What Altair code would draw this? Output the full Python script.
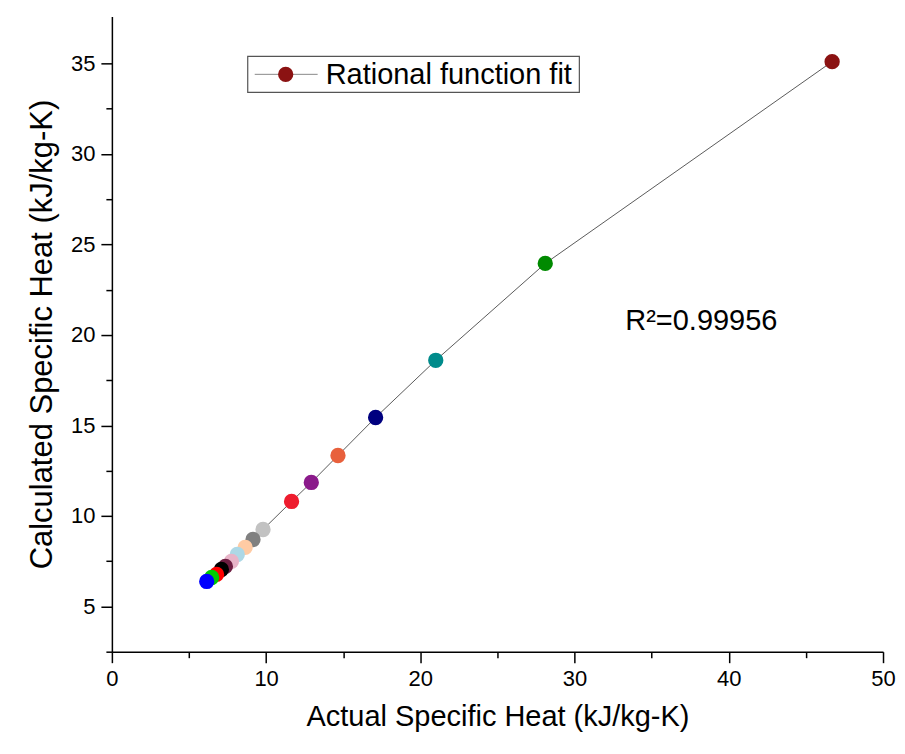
import altair as alt
import pandas as pd

# data (drawn from largest to smallest so the small-value points sit on top)
actual = [46.7, 28.1, 21.0, 17.1, 14.66, 12.93, 11.65, 9.8, 9.15, 8.64, 8.13, 7.75, 7.36, 7.1, 6.79, 6.47, 6.15]
calculated = [35.1, 23.95, 18.6, 15.44, 13.34, 11.85, 10.8, 9.25, 8.7, 8.26, 7.87, 7.49, 7.21, 7.04, 6.77, 6.6, 6.38]
colors = ["#8B1212", "#008A00", "#008B8B", "#00007F", "#E8603C", "#8B1A8B", "#EE1C2E",
          "#C2C2C2", "#808080", "#FFCBA4", "#ADD8E6", "#E8B4C8", "#6E1E42", "#000000",
          "#FF0000", "#00CC00", "#0000FF"]
ids = [f"p{i:02d}" for i in range(len(actual))]

x_major = [0, 10, 20, 30, 40, 50]
x_minor = [5, 15, 25, 35, 45]
y_major = [5, 10, 15, 20, 25, 30, 35]
y_minor = [2.5, 7.5, 12.5, 17.5, 22.5, 27.5, 32.5]

legend_label = "Rational function fit"
r2_label = "R²=0.99956"

df = pd.DataFrame({"x": actual, "y": calculated, "id": ids})

FONT = "Liberation Sans"
xs = alt.Scale(domain=[0, 50], nice=False, zero=False)
ys = alt.Scale(domain=[2.5, 37.6], nice=False, zero=False)

x_axis_major = alt.Axis(values=x_major, orient="bottom", grid=False, domainColor="black",
                        domainWidth=1.5, tickColor="black", tickWidth=1.5, tickSize=11,
                        labelFont=FONT, labelFontSize=22, labelColor="black", labelPadding=6,
                        labelFlush=False,
                        title="Actual Specific Heat (kJ/kg-K)", titleFont=FONT, titleFontSize=29,
                        titleFontWeight="normal", titleColor="black", titlePadding=13)
y_axis_major = alt.Axis(values=y_major, orient="left", grid=False, domainColor="black",
                        domainWidth=1.5, tickColor="black", tickWidth=1.5, tickSize=11,
                        labelFont=FONT, labelFontSize=22, labelColor="black", labelPadding=6,
                        title="Calculated Specific Heat (kJ/kg-K)", titleFont=FONT, titleFontSize=31,
                        titleFontWeight="normal", titleColor="black", titlePadding=12)
x_axis_minor = alt.Axis(values=x_minor, orient="bottom", grid=False, domain=False, labels=False,
                        tickColor="black", tickWidth=1.5, tickSize=6, title=None)
y_axis_minor = alt.Axis(values=y_minor, orient="left", grid=False, domain=False, labels=False,
                        tickColor="black", tickWidth=1.5, tickSize=6, title=None)

base = alt.Chart(df)

line = base.mark_line(color="#5a5a5a", strokeWidth=1).encode(
    x=alt.X("x:Q", scale=xs, axis=x_axis_major),
    y=alt.Y("y:Q", scale=ys, axis=y_axis_major),
    order=alt.Order("x:Q"),
)

points = base.mark_circle(size=235, opacity=1).encode(
    x=alt.X("x:Q", scale=xs, axis=x_axis_minor),
    y=alt.Y("y:Q", scale=ys, axis=y_axis_minor),
    color=alt.Color("id:N", scale=alt.Scale(domain=ids, range=colors), legend=None),
)

# legend box (decoration)
leg_df = pd.DataFrame({"label": [legend_label]})
leg = alt.Chart(leg_df)
leg_box = leg.mark_rect(fill="white", stroke="#555555", strokeWidth=1.2).encode(
    x=alt.value(136), x2=alt.value(468), y=alt.value(40), y2=alt.value(76))
leg_line = leg.mark_rule(color="#8a8a8a", strokeWidth=1).encode(
    x=alt.value(143), x2=alt.value(206), y=alt.value(58))
leg_dot = leg.mark_circle(size=235, opacity=1, color="#8B1212").encode(
    x=alt.value(174), y=alt.value(58))
leg_text = leg.mark_text(align="left", baseline="middle", font=FONT, fontSize=29, color="black").encode(
    x=alt.value(214), y=alt.value(59), text="label:N")

r2_df = pd.DataFrame({"label": [r2_label]})
r2 = alt.Chart(r2_df).mark_text(align="left", baseline="middle", font=FONT, fontSize=29, color="black").encode(
    x=alt.value(514), y=alt.value(305), text="label:N")

chart = alt.layer(line, points, leg_box, leg_line, leg_dot, leg_text, r2).resolve_axis(
    x="independent", y="independent"
).properties(
    width=772, height=636,
    autosize=alt.AutoSizeParams(type="none"),
    padding={"left": 104, "top": 8, "right": 14, "bottom": 90},
    background="white",
).configure_view(stroke=None)

chart.save("out.html", embed_options={"renderer": "svg", "actions": False})
